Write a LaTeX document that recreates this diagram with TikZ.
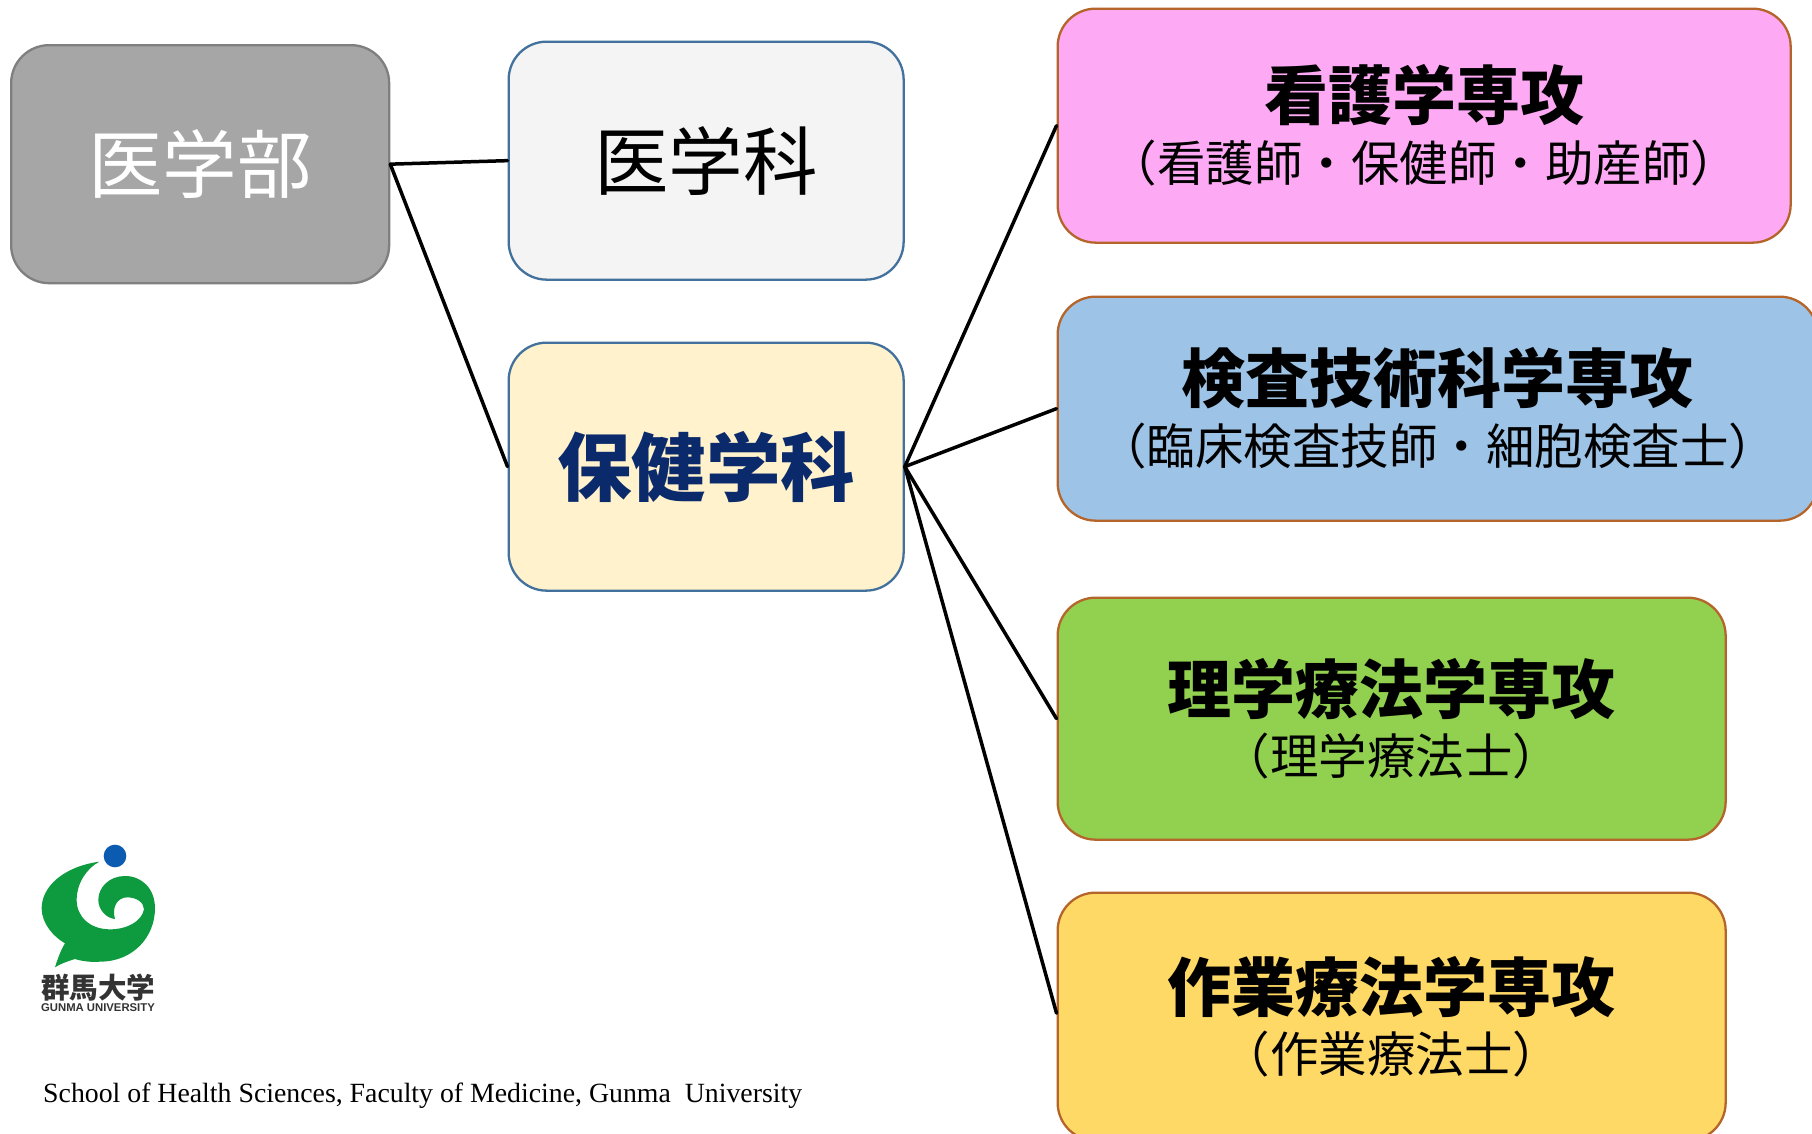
\documentclass[tikz,border=0pt]{standalone}
\usepackage{fontspec}
\setmainfont{Noto Sans CJK JP}
\newfontfamily\latinserif{Liberation Serif}
\newfontfamily\latinsans{Liberation Sans}
\definecolor{edgeO}{HTML}{B5652A}
\definecolor{edgeB}{HTML}{41719C}
\definecolor{edgeG}{HTML}{7F7F7F}
\definecolor{fillPink}{HTML}{FDA9F3}
\definecolor{fillBlue}{HTML}{9DC3E6}
\definecolor{fillGreen}{HTML}{92D050}
\definecolor{fillYellow}{HTML}{FFD966}
\definecolor{fillWhite}{HTML}{F4F4F4}
\definecolor{fillCream}{HTML}{FFF2CC}
\definecolor{fillGray}{HTML}{A6A6A6}
\definecolor{navy}{HTML}{0B2A6B}
\definecolor{logoGreen}{HTML}{0E9A3E}
\definecolor{logoBlue}{HTML}{0B5BB0}
\definecolor{logoText}{HTML}{333333}
\newcommand{\ttl}[1]{{\fontsize{64}{68}\selectfont\bfseries #1}}
\newcommand{\sbt}[1]{{\fontsize{48.5}{50}\selectfont #1}}
\tikzset{
  x=1pt,y=-1pt,
  box/.style={draw,line width=2.3pt,rounded corners=38pt,inner sep=0pt,align=center,anchor=north west},
  major/.style={box,draw=edgeO},
  dept/.style={box,draw=edgeB},
  link/.style={draw=black,line width=3.5pt,line cap=round},
}
\begin{document}
\begin{tikzpicture}
\useasboundingbox (0,0) rectangle (1812,1133);
\fill[white] (0,0) rectangle (1812,1133);
\node[box,draw=edgeG,fill=fillGray,text=white,minimum width=378pt,minimum height=238pt,font=\fontsize{74.5}{80}\selectfont] (fac) at (10,44) {医学部};
\node[dept,fill=fillWhite,minimum width=395pt,minimum height=238pt,font=\fontsize{74.5}{80}\selectfont] (med) at (507.5,40.5) {医学科};
\node[dept,fill=fillCream,text=navy,minimum width=395pt,minimum height=248pt,font=\fontsize{74.5}{80}\selectfont\bfseries] (hs) at (507.5,341.5) {保健学科};
\node[major,fill=fillPink,minimum width=733pt,minimum height=234pt] (nur) at (1056.5,7.5) {\ttl{看護学専攻}\\[13pt]\sbt{（看護師・保健師・助産師）}};
\node[major,fill=fillBlue,minimum width=760pt,minimum height=224pt] (lab) at (1056.5,295.5) {\ttl{検査技術科学専攻}\\[13pt]\sbt{（臨床検査技師・細胞検査士）}};
\node[major,fill=fillGreen,minimum width=668pt,minimum height=242pt] (pt) at (1056.5,596.5) {\ttl{理学療法学専攻}\\[13pt]\sbt{（理学療法士）}};
\node[major,fill=fillYellow,minimum width=668pt,minimum height=248pt] (ot) at (1056.5,891.5) {\ttl{作業療法学専攻}\\[13pt]\sbt{（作業療法士）}};
\draw[link] (fac.east) -- (med.west);
\draw[link] (fac.east) -- (hs.west);
\draw[link] (hs.east) -- (nur.west);
\draw[link] (hs.east) -- (lab.west);
\draw[link] (hs.east) -- (pt.west);
\draw[link] (hs.east) -- ([yshift=3.5pt]ot.west);
\begin{scope}[shift={(0,820)},x=0.3333pt,y=-0.3333pt]
\fill[logoBlue] (345,108) circle[radius=34];
\fill[logoGreen] (298,125) .. controls (190,140) and (125,200) .. (125,265)
  .. controls (125,310) and (160,350) .. (195,370)
  .. controls (180,395) and (172,420) .. (165,442)
  .. controls (180,432) and (200,425) .. (225,417)
  .. controls (250,425) and (280,427) .. (300,425)
  .. controls (400,425) and (465,350) .. (465,265)
  .. controls (465,205) and (425,168) .. (375,168)
  .. controls (330,168) and (295,200) .. (295,240)
  .. controls (295,270) and (320,295) .. (345,297)
  .. controls (335,265) and (350,232) .. (382,232)
  .. controls (410,232) and (432,248) .. (432,268)
  .. controls (425,305) and (380,328) .. (330,328)
  .. controls (270,328) and (230,290) .. (230,240)
  .. controls (230,190) and (260,145) .. (298,125) -- cycle;
\end{scope}
\node[inner sep=0pt,text=logoText,font=\bfseries\fontsize{28.5}{30}\selectfont] (logoj) at (98,988) {群馬大学};
\node[inner sep=0pt,text=logoText,font=\latinsans\bfseries\fontsize{11.3}{12}\selectfont] (logoe) at (98,1008) {GUNMA UNIVERSITY};
\node[inner sep=0pt,anchor=west,font=\latinserif\fontsize{27.8}{30}\selectfont] (cap) at (43,1096) {School of Health Sciences, Faculty of Medicine, Gunma\ \ University};
\end{tikzpicture}
\end{document}
